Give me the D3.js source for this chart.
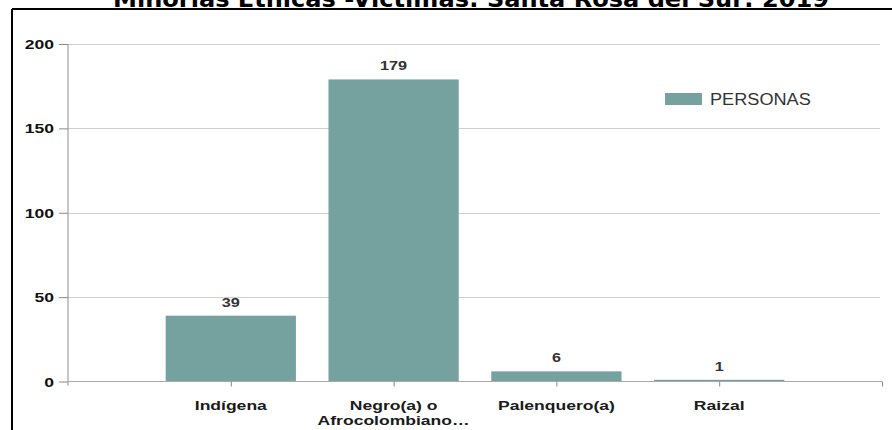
<!DOCTYPE html>
<html>
<head>
<meta charset="utf-8">
<script src="https://cdn.jsdelivr.net/npm/d3@7"></script>
<style>
  html, body { margin: 0; padding: 0; background: #fff; }
  svg { display: block; }
</style>
</head>
<body>
<svg id="chart" width="892" height="430"></svg>
<script>
// ---- data ----
const title = "Minorías Étnicas -Víctimas: Santa Rosa del Sur: 2019";
const categories = [["Indígena"], ["Negro(a) o", "Afrocolombiano…"], ["Palenquero(a)"], ["Raizal"]];
const values = [39, 179, 6, 1];
const seriesName = "PERSONAS";
const yTicks = [0, 50, 100, 150, 200];

// ---- layout ----
const W = 892, H = 430;
const plot = { left: 68, right: 882, top: 44, bottom: 381.5 };
const barColor = "#75a29f";
const SX = 1.3; // horizontal text stretch seen in the reference

const svg = d3.select("#chart");

const x = d3.scaleLinear().domain([0, categories.length + 1]).range([plot.left, plot.right]);
const y = d3.scaleLinear().domain([0, 200]).range([plot.bottom, plot.top]);
const unit = x(1) - x(0);
const barW = unit * 0.8;

function placeText(sel, tx, ty) {
  sel.attr("transform", (d, i) => `translate(${tx(d, i)},${ty(d, i)}) scale(${SX},1)`);
}

// frame lines
svg.append("line").attr("x1", 12).attr("x2", 12).attr("y1", 9).attr("y2", H)
  .attr("stroke", "#000").attr("stroke-width", 2);
svg.append("line").attr("x1", 12).attr("x2", W).attr("y1", 9).attr("y2", 9)
  .attr("stroke", "#000").attr("stroke-width", 2);

// title (clipped at the top)
svg.append("text")
  .attr("x", 471).attr("y", 7)
  .attr("text-anchor", "middle")
  .attr("font-family", "DejaVu Sans")
  .attr("font-weight", "bold")
  .attr("font-size", 23)
  .attr("textLength", 716)
  .attr("lengthAdjust", "spacingAndGlyphs")
  .attr("fill", "#000")
  .text(title);

// gridlines
svg.append("g").selectAll("line")
  .data(yTicks.filter(t => t > 0))
  .join("line")
  .attr("x1", plot.left).attr("x2", plot.right - 2)
  .attr("y1", d => Math.round(y(d)) + 0.5).attr("y2", d => Math.round(y(d)) + 0.5)
  .attr("stroke", "#cfcfcf").attr("stroke-width", 1.2);

// y axis
const yAxis = d3.axisLeft(y).tickValues(yTicks).tickSize(9).tickPadding(5);
const gy = svg.append("g").attr("transform", `translate(${plot.left},0)`).call(yAxis);
gy.select(".domain").attr("stroke", "#a0a0a0").attr("stroke-width", 1.2)
  .attr("d", `M0,${plot.top}V${plot.bottom + 4}`);
gy.selectAll(".tick line").attr("stroke", "#888");
gy.selectAll(".tick text")
  .attr("font-family", "Liberation Sans, Arial, sans-serif")
  .attr("font-weight", "bold")
  .attr("font-size", 13.5)
  .attr("fill", "#111")
  .each(function () {
    const t = d3.select(this);
    const px = +t.attr("x");
    t.attr("x", null).attr("dy", "0.34em")
      .attr("transform", `translate(${px},0) scale(${SX},1)`);
  });

// bars
const idx = d3.range(categories.length);
svg.append("g").selectAll("rect")
  .data(idx)
  .join("rect")
  .attr("x", i => x(i + 1) - barW / 2)
  .attr("width", barW)
  .attr("y", i => y(values[i]))
  .attr("height", i => y(0) - y(values[i]))
  .attr("fill", barColor);

// x axis
const xAxis = d3.axisBottom(x).tickValues(d3.range(1, categories.length + 2)).tickSize(5).tickFormat("");
const gx = svg.append("g").attr("transform", `translate(0,${plot.bottom})`).call(xAxis);
gx.select(".domain").attr("stroke", "#a8a8a8").attr("stroke-width", 1.2)
  .attr("d", `M${plot.left},0H${plot.right}`);
gx.selectAll(".tick line").attr("stroke", "#888");

// category labels
const catG = svg.append("g")
  .attr("font-family", "Liberation Sans, Arial, sans-serif")
  .attr("font-weight", "bold")
  .attr("font-size", 13.5)
  .attr("fill", "#1a1a1a")
  .attr("text-anchor", "middle");
idx.forEach(i => {
  categories[i].forEach((line, j) => {
    catG.append("text")
      .attr("transform", `translate(${x(i + 1)},${plot.bottom + 28 + j * 15.5}) scale(${SX},1)`)
      .text(line);
  });
});

// value labels
svg.append("g").selectAll("text")
  .data(idx)
  .join("text")
  .attr("text-anchor", "middle")
  .attr("font-family", "Liberation Sans, Arial, sans-serif")
  .attr("font-weight", "bold")
  .attr("font-size", 12.5)
  .attr("fill", "#333")
  .call(placeText, i => x(i + 1), i => y(values[i]) - 9)
  .text(i => values[i]);

// legend
const lg = svg.append("g");
lg.append("rect").attr("x", 665).attr("y", 93).attr("width", 37).attr("height", 12).attr("fill", barColor);
lg.append("text")
  .attr("font-family", "Liberation Sans, Arial, sans-serif")
  .attr("font-size", 16.5)
  .attr("fill", "#333")
  .attr("transform", `translate(710,105) scale(1.1,1)`)
  .text(seriesName);
</script>
</body>
</html>
